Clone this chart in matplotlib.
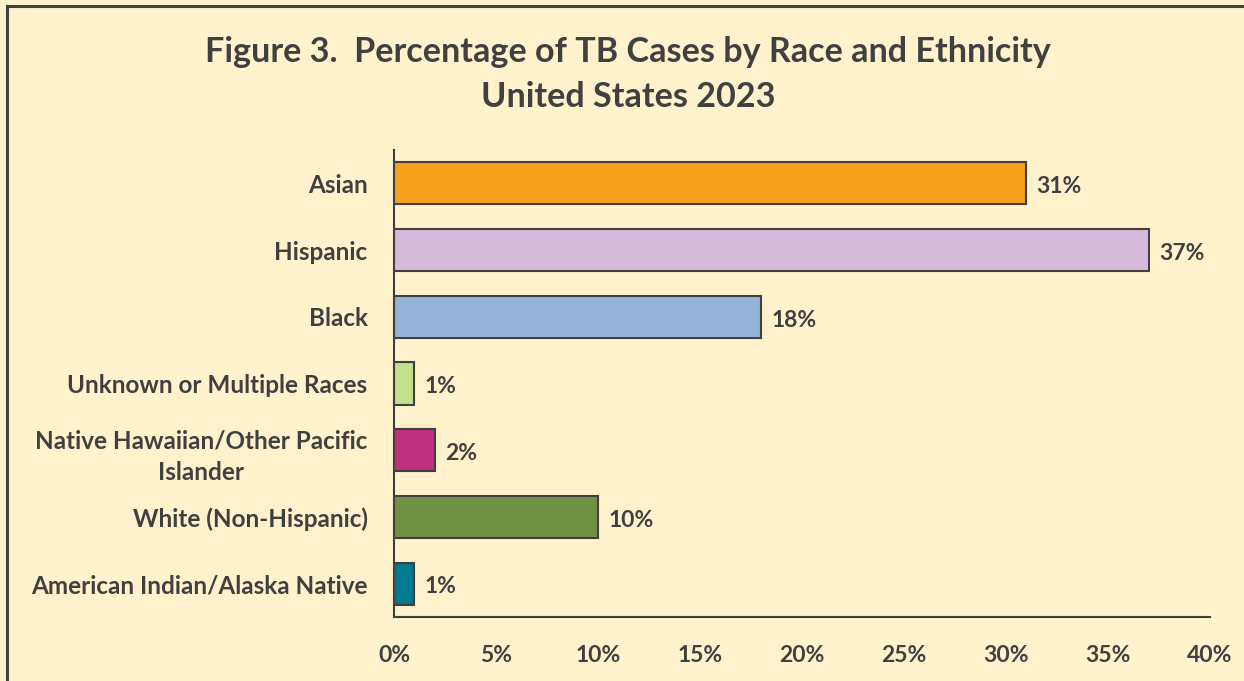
import matplotlib
matplotlib.use("Agg")
import matplotlib.pyplot as plt
from matplotlib.patches import Rectangle
from matplotlib.ticker import FuncFormatter

categories = ["Asian", "Hispanic", "Black", "Unknown or Multiple Races",
              "Native Hawaiian/Other Pacific\nIslander", "White (Non-Hispanic)",
              "American Indian/Alaska Native"]
values = [31, 37, 18, 1, 2, 10, 1]
colors = ["#F7A11D", "#D8BADD", "#95B3D7", "#C4DF8E", "#C0307F", "#6F9143", "#007A8F"]
xticks = [0, 5, 10, 15, 20, 25, 30, 35, 40]
title_lines = ["Figure 3.  Percentage of TB Cases by Race and Ethnicity", "United States 2023"]

BG = "#FFF2CC"
TXT = "#404040"
plt.rcParams['font.family'] = ['Lato', 'DejaVu Sans']
plt.rcParams['font.weight'] = 'bold'

fig = plt.figure(figsize=(12.44, 6.81), dpi=100, facecolor=BG)
fig.patches.append(Rectangle((7/1244, -0.1), 1.2, 1 - 6/681 + 0.1, transform=fig.transFigure,
                             fill=False, edgecolor=TXT, linewidth=2.2))
ax = fig.add_axes([394/1244, 1 - 617/681, (1210 - 394)/1244, (617 - 150)/681])
ax.set_facecolor(BG)

ypos = list(range(len(categories)))
ax.barh(ypos, values, height=0.63, color=colors, edgecolor=TXT, linewidth=1.5)
for y, v in zip(ypos, values):
    ax.text(v + 0.5, y + 0.05, f"{v}%", va="center", ha="left", fontsize=16.5,
            fontweight="bold", color=TXT)

ax.set_ylim(len(categories) - 0.5, -0.5)
ax.set_xlim(0, 40)
ax.set_yticks(ypos)
ax.set_yticklabels(categories, multialignment="center", linespacing=1.45)
ax.set_xticks(xticks)
ax.xaxis.set_major_formatter(FuncFormatter(lambda v, p: f"{v:.0f}%"))
ax.tick_params(axis="x", length=0, pad=20, labelsize=16.5, labelcolor=TXT)
ax.tick_params(axis="y", length=0, pad=19, labelsize=17.5, labelcolor=TXT)
for lab in ax.get_xticklabels() + ax.get_yticklabels():
    lab.set_fontweight("bold")
for s in ["top", "right"]:
    ax.spines[s].set_visible(False)
for s in ["left", "bottom"]:
    ax.spines[s].set_color(TXT)
    ax.spines[s].set_linewidth(1.5)

fig.text(628/1244, 1 - 52/681, title_lines[0], ha="center", va="center", fontsize=24.6,
         fontweight="bold", color=TXT)
fig.text(628/1244, 1 - 97/681, title_lines[1], ha="center", va="center", fontsize=24.6,
         fontweight="bold", color=TXT)

fig.savefig("out.png", dpi=100, facecolor=BG)
